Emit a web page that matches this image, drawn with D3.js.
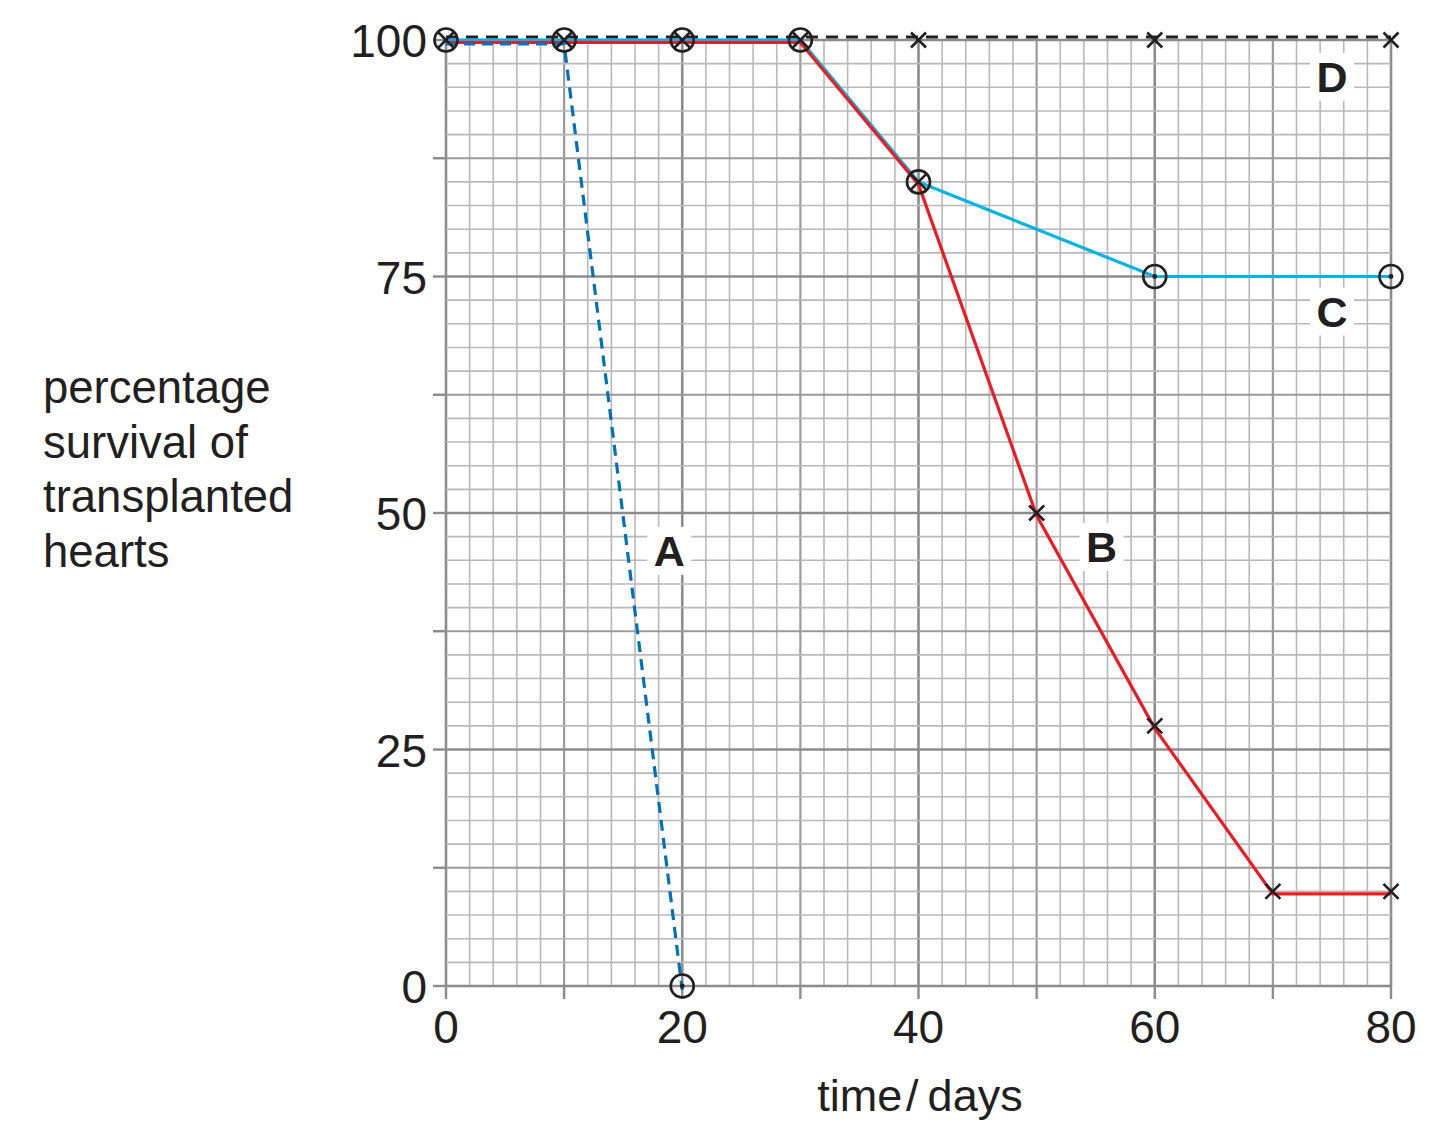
<!DOCTYPE html>
<html>
<head>
<meta charset="utf-8">
<script src="https://cdn.jsdelivr.net/npm/d3@7"></script>
<style>
  body { margin: 0; background: #fff; }
  svg text { font-family: "Liberation Sans", Arial, Helvetica, sans-serif; fill: #231f20; }
</style>
</head>
<body>
<svg id="chart" width="1437" height="1142"></svg>
<script>
// survival of transplanted hearts, four treatment groups
const seriesA = [[0, 100], [10, 100], [20, 0]];
const seriesB = [[0, 100], [10, 100], [20, 100], [30, 100], [40, 85], [50, 50], [60, 27.5], [70, 10], [80, 10]];
const seriesC = [[0, 100], [10, 100], [20, 100], [30, 100], [40, 85], [60, 75], [80, 75]];
const seriesD = [[0, 100], [10, 100], [20, 100], [30, 100], [40, 100], [60, 100], [80, 100]];

// marker kinds
const circleCross = [[0, 100], [10, 100], [20, 100], [30, 100], [40, 85]];
const circleDot = [[20, 0], [60, 75], [80, 75]];
const crossOnly = [[40, 100], [60, 100], [80, 100], [50, 50], [60, 27.5], [70, 10], [80, 10]];

const xTicks = [0, 20, 40, 60, 80];
const yTicks = [0, 25, 50, 75, 100];
const yTitle = ['percentage', 'survival of', 'transplanted', 'hearts'];

const lineLabels = [
    { text: 'A', x: 18.9, y: 46 },
    { text: 'B', x: 55.5, y: 46.4 },
    { text: 'C', x: 75.0, y: 71.3 },
    { text: 'D', x: 75.0, y: 96.1 },
];

const svg = d3.select('#chart');

const x = d3.scaleLinear().domain([0, 80]).range([446, 1391]);
const y = d3.scaleLinear().domain([0, 100]).range([986, 40]);

// graph paper
const grid = svg.append('g').attr('class', 'grid');

const xMinor = d3.range(0, 81, 2);
const yMinor = d3.range(0, 100.1, 2.5);

grid.selectAll('line.vx').data(xMinor).enter().append('line')
    .attr('class', 'vx')
    .attr('x1', d => x(d)).attr('x2', d => x(d))
    .attr('y1', y(0)).attr('y2', y(100))
    .attr('stroke', d => d % 20 === 0 ? '#8c8c8c' : d % 10 === 0 ? '#9a9a9a' : '#b8b8b8')
    .attr('stroke-width', d => d % 20 === 0 ? 2.6 : d % 10 === 0 ? 2.2 : 1.6);

grid.selectAll('line.hy').data(yMinor).enter().append('line')
    .attr('class', 'hy')
    .attr('x1', x(0)).attr('x2', x(80))
    .attr('y1', d => y(d)).attr('y2', d => y(d))
    .attr('stroke', d => d % 25 === 0 ? '#8c8c8c' : d % 12.5 === 0 ? '#9a9a9a' : '#b8b8b8')
    .attr('stroke-width', d => d % 25 === 0 ? 2.6 : d % 12.5 === 0 ? 2.2 : 1.6);

// ticks sticking out of the axes
grid.selectAll('line.tx').data(d3.range(0, 81, 10)).enter().append('line')
    .attr('x1', d => x(d)).attr('x2', d => x(d))
    .attr('y1', y(0)).attr('y2', y(0) + 13)
    .attr('stroke', '#8c8c8c').attr('stroke-width', 2.4);

grid.selectAll('line.ty').data(d3.range(0, 100.1, 12.5)).enter().append('line')
    .attr('x1', x(0) - 13).attr('x2', x(0))
    .attr('y1', d => y(d)).attr('y2', d => y(d))
    .attr('stroke', '#8c8c8c').attr('stroke-width', 2.4);

// tick labels
svg.append('g').selectAll('text').data(xTicks).enter().append('text')
    .attr('x', d => x(d)).attr('y', y(0) + 57)
    .attr('text-anchor', 'middle')
    .style('font-size', '46px')
    .text(d => d);

svg.append('g').selectAll('text').data(yTicks).enter().append('text')
    .attr('x', 427).attr('y', d => y(d) + 17)
    .attr('text-anchor', 'end')
    .style('font-size', '46px')
    .text(d => d);

svg.append('text')
    .attr('x', 920).attr('y', 1111)
    .attr('text-anchor', 'middle')
    .style('font-size', '45px')
    .text('time\u200a/\u2009days');

svg.append('g').selectAll('text').data(yTitle).enter().append('text')
    .attr('x', 43).attr('y', (d, i) => 403 + i * 54.5)
    .style('font-size', '45.5px')
    .text(d => d);

// lines, nudged a couple of pixels so overlapping runs stay visible
const line = d3.line().x(d => x(d[0])).y(d => y(d[1]));

const series = [
    { data: seriesD, color: '#231f20', dash: '12,8', shift: -3 },
    { data: seriesC, color: '#00b4e8', dash: null, shift: 0 },
    { data: seriesB, color: '#ed1c24', dash: null, shift: 2.5 },
    { data: seriesA, color: '#0072bc', dash: '11,7', shift: 4 },
];

svg.append('g').selectAll('path').data(series).enter().append('path')
    .attr('d', d => line(d.data))
    .attr('transform', d => `translate(0,${d.shift})`)
    .attr('fill', 'none')
    .attr('stroke', d => d.color)
    .attr('stroke-width', 3.2)
    .attr('stroke-dasharray', d => d.dash);

// markers
const marks = svg.append('g').attr('stroke', '#231f20').attr('stroke-width', 2.6).attr('fill', 'none');
const r = 11.5;
const k = 7.5;

function cross(sel) {
    sel.append('path')
        .attr('d', d => {
            const cx = x(d[0]);
            const cy = y(d[1]);
            return `M${cx - k},${cy - k}L${cx + k},${cy + k}M${cx - k},${cy + k}L${cx + k},${cy - k}`;
        });
}

const cc = marks.selectAll('g.cc').data(circleCross).enter().append('g');
cc.append('circle').attr('cx', d => x(d[0])).attr('cy', d => y(d[1])).attr('r', r);
cross(cc);

const cd = marks.selectAll('g.cd').data(circleDot).enter().append('g');
cd.append('circle').attr('cx', d => x(d[0])).attr('cy', d => y(d[1])).attr('r', r);
cd.append('circle').attr('cx', d => x(d[0])).attr('cy', d => y(d[1])).attr('r', 2.4)
    .attr('fill', '#231f20').attr('stroke', 'none');

const co = marks.selectAll('g.co').data(crossOnly).enter().append('g');
cross(co);

// letter labels on white patches
const lab = svg.append('g').selectAll('g').data(lineLabels).enter().append('g')
    .attr('transform', d => `translate(${x(d.x)},${y(d.y)})`);

lab.append('rect')
    .attr('x', -22).attr('y', -24).attr('width', 44).attr('height', 48)
    .attr('fill', '#fff');

lab.append('text')
    .attr('text-anchor', 'middle')
    .attr('y', 15)
    .style('font-size', '43px')
    .style('font-weight', 'bold')
    .text(d => d.text);
</script>
</body>
</html>
